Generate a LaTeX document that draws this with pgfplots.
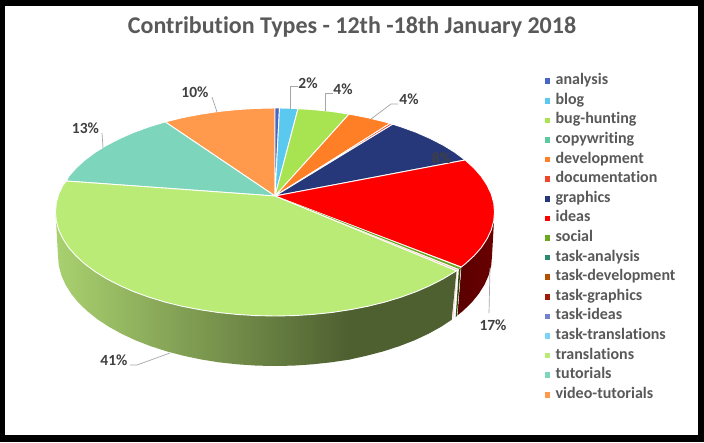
\documentclass[border=0pt]{standalone}
\usepackage{pgfplots}
\pgfplotsset{compat=1.18}
\usepackage{fontspec}
\setmainfont{Carlito}[Ligatures=NoCommon]
\definecolor{cAnalysis}{HTML}{4A66C4}
\definecolor{cBlog}{HTML}{5BC8F0}
\definecolor{cBug}{HTML}{A8E452}
\definecolor{cCopy}{HTML}{5DC9A0}
\definecolor{cDev}{HTML}{FF7F27}
\definecolor{cDoc}{HTML}{F2462B}
\definecolor{cGraphics}{HTML}{26387A}
\definecolor{cIdeas}{HTML}{FF0000}
\definecolor{cSocial}{HTML}{6AA81E}
\definecolor{cTaskA}{HTML}{2A8A6F}
\definecolor{cTaskD}{HTML}{B35000}
\definecolor{cTaskG}{HTML}{9E1C0A}
\definecolor{cTaskI}{HTML}{7382CC}
\definecolor{cTaskT}{HTML}{7DD3F2}
\definecolor{cTrans}{HTML}{B9EB76}
\definecolor{cTut}{HTML}{7DD5BC}
\definecolor{cVideo}{HTML}{FF9A4D}
\definecolor{sideL}{HTML}{A9D16F}
\definecolor{sideR}{HTML}{4E5F30}
\definecolor{redL}{HTML}{5A0000}
\definecolor{redR}{HTML}{6A0000}
\definecolor{txt}{HTML}{595959}
\definecolor{lbl}{HTML}{404040}
\definecolor{leader}{HTML}{A6A6A6}
\pgfplotsset{slice/.style={draw=white,line width=0.9pt,line join=round,forget plot},
 flat/.style={draw=none,forget plot},
 lead/.style={draw=leader,line width=0.7pt,no marks,forget plot}}
\begin{document}
\begin{tikzpicture}
\begin{axis}[x=1pt,y=1pt,y dir=reverse,xmin=0,xmax=704,ymin=0,ymax=442,
 hide axis,clip=true,
 legend cell align=left,
 legend style={at={(axis cs:544.5,74.6)},anchor=north west,draw=none,fill=none,
   font=\bfseries\fontsize{16}{16}\selectfont,text=txt,inner sep=0pt,outer sep=0pt,row sep=6.6pt,
   nodes={text height=10pt,text depth=3pt,inner sep=0pt,outer sep=0pt},
   /tikz/every odd column/.append style={column sep=5.5pt}},
 legend image code/.code={\fill[draw=none,#1] (0cm,-2.8pt) rectangle (5.6pt,2.8pt);}]
% frame
\addplot[fill=black,flat] coordinates {(0,0)(704,0)(704,442)(0,442)} -- cycle;
\addplot[fill=white,flat] coordinates {(5,6)(698,6)(698,435)(5,435)} -- cycle;
% sides
\addplot[draw=none,forget plot,left color=redL,right color=redR] coordinates {
(494.5,212)(493.7,221.1)(491.2,230.1)(487.0,238.9)(481.3,247.6)(473.9,256.0)(465.1,264.0)(461.3,267)
(457.3,315.5)(462.9,311)(471.7,302.5)(478.9,293.6)(484.6,284.5)(488.7,275.1)(491.2,265.6)(492,256)} -- cycle;
\addplot[fill=white,flat] coordinates {(461.3,267)(456.5,270.8)(451.7,319.7)(457.3,315.7)} -- cycle;
\addplot[fill=cSocial!45!black,flat] coordinates {(460.7,267.6)(458.9,269)(455.7,317)(456.9,316)} -- cycle;
\addplot[fill=cDoc!45!white,flat] coordinates {(457,270.4)(456.7,270.6)(452.8,319)(453.1,318.8)} -- cycle;
\addplot[fill=sideR,flat] coordinates {
(456.5,270.8)(443.1,278.9)(430.2,285.5)(416.1,291.7)(400.9,297.2)(384.8,302.1)(367.8,306.3)(349.6,309.7)
(349.6,359.5)(366.7,355.7)(383.5,351.3)(399.5,346.1)(414.5,340.3)(428.4,333.8)(441.2,326.7)(451.7,319.7)} -- cycle;
\addplot[draw=none,forget plot,left color=sideL,right color=sideR] coordinates {
(55.5,212)(56.3,221.1)(58.8,230.1)(63.0,238.9)(68.7,247.6)(76.1,256.0)(84.9,264.0)(95.2,271.7)(106.9,278.9)(119.8,285.5)
(133.9,291.7)(149.1,297.2)(165.2,302.1)(182.2,306.3)(199.9,309.7)(218.2,312.5)(236.9,314.4)(255.9,315.6)(275,316)
(294.1,315.6)(313.1,314.4)(331.8,312.5)(350.1,309.7)
(350.1,359.5)(331.2,362.3)(312.7,364.3)(293.9,365.6)(275,366)(256.1,365.6)(237.3,364.3)(218.8,362.3)(200.8,359.4)
(183.3,355.7)(166.5,351.3)(150.5,346.1)(135.5,340.3)(121.6,333.8)(108.8,326.7)(97.2,319.1)(87.1,311)(78.3,302.5)
(71.1,293.6)(65.4,284.5)(61.3,275.1)(58.8,265.6)(58,256)} -- cycle;
% top slices
\addplot[fill=cVideo,slice] coordinates {(275,196)(165.2,121.9)(182.2,117.7)(199.9,114.3)(218.2,111.5)(236.9,109.6)(255.9,108.4)(275,108)} -- cycle;
\addplot[fill=cAnalysis,slice] coordinates {(275,196)(275,108)(279.5,108)} -- cycle;
\addplot[fill=cBlog,slice] coordinates {(275,196)(279.5,108)(294.1,108.4)(298,108.7)} -- cycle;
\addplot[fill=cBug,slice] coordinates {(275,196)(298,108.7)(313.1,109.6)(331.8,111.5)(349,114.1)} -- cycle;
\addplot[fill=cDev,slice] coordinates {(275,196)(349,114.1)(367.8,117.7)(384.8,121.9)(390,123.4)} -- cycle;
\addplot[fill=cDoc,slice] coordinates {(275,196)(390,123.4)(392.7,124.2)} -- cycle;
\addplot[fill=cGraphics,slice] coordinates {(275,196)(392.7,124.2)(400.9,126.8)(416.1,132.3)(430.2,138.5)(443.1,145.1)(454.8,152.3)(465.1,160)} -- cycle;
\addplot[fill=cIdeas,slice] coordinates {(275,196)(465.1,160)(473.9,168)(481.3,176.4)(487,185.1)(491.2,193.9)(493.7,202.9)(494.5,212)(493.7,221.1)(491.2,230.1)(487,238.9)(481.3,247.6)(473.9,256)(465.1,264)(461.3,267)} -- cycle;
\addplot[fill=white,flat] coordinates {(275,196)(461.3,267)(456.5,270.8)} -- cycle;
\addplot[fill=cSocial,flat] coordinates {(275,196)(460.5,267.6)(458.9,268.9)} -- cycle;
\addplot[fill=cDoc!45!white,flat] coordinates {(275,196)(457.8,270)(457.2,270.4)} -- cycle;
\addplot[fill=cTut,slice] coordinates {(275,196)(66.5,181)(68.7,176.4)(76.1,168)(84.9,160)(95.2,152.3)(106.9,145.1)(119.8,138.5)(133.9,132.3)(149.1,126.8)(165.2,121.9)} -- cycle;
\addplot[fill=cTrans,slice] coordinates {(275,196)(456.5,270.8)(443.1,278.9)(430.2,285.5)(416.1,291.7)(400.9,297.2)(384.8,302.1)(367.8,306.3)(350.1,309.7)(331.8,312.5)(313.1,314.4)(294.1,315.6)(275,316)
(255.9,315.6)(236.9,314.4)(218.2,312.5)(199.9,309.7)(182.2,306.3)(165.2,302.1)(149.1,297.2)(133.9,291.7)(119.8,285.5)(106.9,278.9)(95.2,271.7)(84.9,264)(76.1,256)(68.7,247.6)(63,238.9)(58.8,230.1)(56.3,221.1)(55.5,212)(56.3,202.9)(58.8,193.9)(63,185.1)(66.5,181)} -- cycle;
% leader lines
\addplot[lead] coordinates {(212,97)(217,112)};
\addplot[lead] coordinates {(102,133)(103,148)};
\addplot[lead] coordinates {(298,86)(290,86)(290,109)};
\addplot[lead] coordinates {(333,93)(325,93)(325,111)};
\addplot[lead] coordinates {(398,104)(391,104)(371,119)};
\addplot[lead] coordinates {(489,313)(490,268)};
\addplot[lead] coordinates {(130,365)(137,365)(170,353)};
% legend
\addlegendimage{fill=cAnalysis}\addlegendentry{analysis}
\addlegendimage{fill=cBlog}\addlegendentry{blog}
\addlegendimage{fill=cBug}\addlegendentry{bug-hunting}
\addlegendimage{fill=cCopy}\addlegendentry{copywriting}
\addlegendimage{fill=cDev}\addlegendentry{development}
\addlegendimage{fill=cDoc}\addlegendentry{documentation}
\addlegendimage{fill=cGraphics}\addlegendentry{graphics}
\addlegendimage{fill=cIdeas}\addlegendentry{ideas}
\addlegendimage{fill=cSocial}\addlegendentry{social}
\addlegendimage{fill=cTaskA}\addlegendentry{task-analysis}
\addlegendimage{fill=cTaskD}\addlegendentry{task-development}
\addlegendimage{fill=cTaskG}\addlegendentry{task-graphics}
\addlegendimage{fill=cTaskI}\addlegendentry{task-ideas}
\addlegendimage{fill=cTaskT}\addlegendentry{task-translations}
\addlegendimage{fill=cTrans}\addlegendentry{translations}
\addlegendimage{fill=cTut}\addlegendentry{tutorials}
\addlegendimage{fill=cVideo}\addlegendentry{video-tutorials}
% texts
\node[font=\bfseries\fontsize{24}{24}\selectfont,text=txt,anchor=base] at (axis cs:352,33) {Contribution Types - 12th -18th January 2018};
\tikzset{pct/.style={font=\bfseries\fontsize{15.5}{15.5}\selectfont,text=lbl}}
\node[pct] at (axis cs:195,92) {10\%};
\node[pct] at (axis cs:85.5,128) {13\%};
\node[pct] at (axis cs:308,83) {2\%};
\node[pct] at (axis cs:343,89) {4\%};
\node[pct] at (axis cs:409,99) {4\%};
\node[pct] at (axis cs:441.5,158) {8\%};
\node[pct] at (axis cs:493,325) {17\%};
\node[pct] at (axis cs:114,360) {41\%};
\end{axis}
\end{tikzpicture}
\end{document}
